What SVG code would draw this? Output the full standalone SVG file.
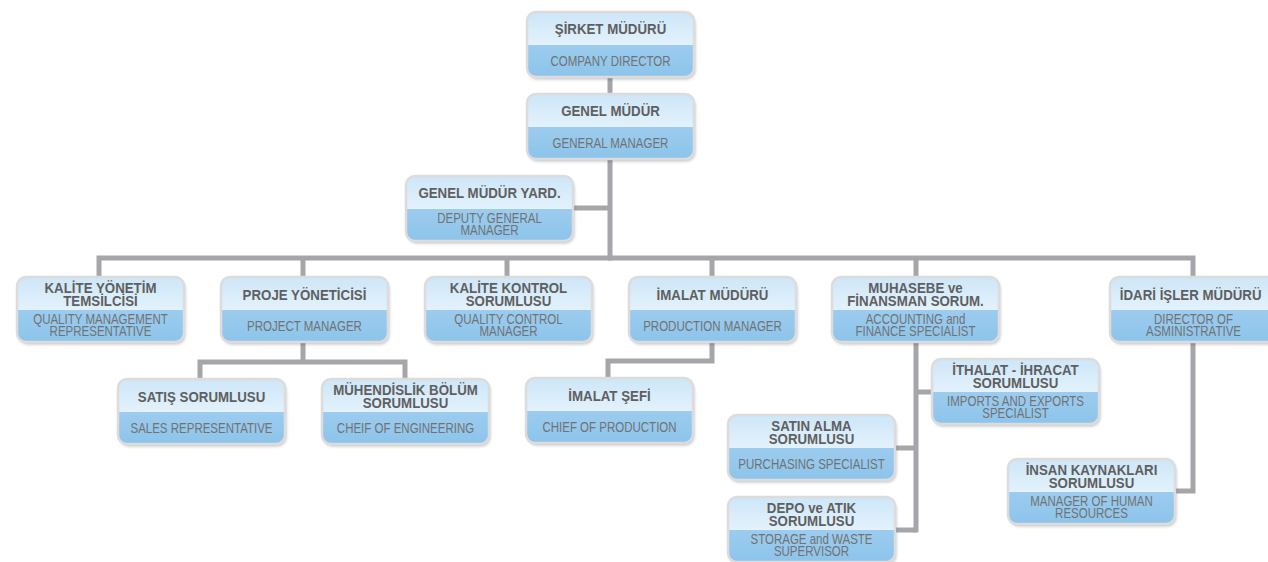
<svg xmlns="http://www.w3.org/2000/svg" xmlns:xlink="http://www.w3.org/1999/xlink" width="1268" height="562" viewBox="0 0 1268 562">
<defs>
<linearGradient id="gt" x1="0" y1="0" x2="0" y2="1"><stop offset="0" stop-color="#cde6f8"/><stop offset="1" stop-color="#e3f2fc"/></linearGradient>
<linearGradient id="gb" x1="0" y1="0" x2="0" y2="1"><stop offset="0" stop-color="#abd4f2"/><stop offset="1" stop-color="#8dc4eb"/></linearGradient>
<filter id="sh" x="-10%" y="-10%" width="130%" height="140%"><feGaussianBlur stdDeviation="1.5"/></filter>
<g id="box">
<rect x="-82" y="2.5" width="167" height="65" rx="9" fill="#000" opacity="0.22" filter="url(#sh)"/>
<rect x="-83.5" y="0" width="167" height="65" rx="9" fill="url(#gb)"/>
<path d="M-83.5,33 V9 A9,9 0 0 1 -74.5,0 H74.5 A9,9 0 0 1 83.5,9 V33 Z" fill="url(#gt)"/>
<rect x="-83.5" y="0" width="167" height="65" rx="9" fill="none" stroke="#dcdcdc" stroke-width="2.5"/>
</g>
<style>
.t{font-family:"Liberation Sans",Arial,sans-serif;font-weight:bold;font-size:14px;fill:#5f5f5f;text-anchor:middle}
.s{font-family:"Liberation Sans",Arial,sans-serif;font-size:14.4px;fill:#727272;text-anchor:middle}
.c{fill:none;stroke:#a5a5aa;stroke-width:5;stroke-linejoin:miter;stroke-linecap:butt}
</style>
</defs>
<rect width="1268" height="562" fill="#fff"/>
<g id="connectors">
<path class="c" d="M610,76 V95"/>
<path class="c" d="M610,158 V260.5"/>
<path class="c" d="M572,208 H610"/>
<path class="c" d="M99,278 V258 H1193 V278"/>
<path class="c" d="M303,258 V278 M507,258 V278 M712,258 V278 M916,258 V278"/>
<path class="c" d="M303,341 V362"/>
<path class="c" d="M200,380 V362 H405 V380"/>
<path class="c" d="M712,341 V361 H608 V379"/>
<path class="c" d="M916,341 V532.5"/>
<path class="c" d="M916,392 H933"/>
<path class="c" d="M894,448 H916"/>
<path class="c" d="M894,530 H916"/>
<path class="c" d="M1193,341 V491 H1174"/>
</g>
<g id="n-sirket" transform="translate(610.5,12)"><use xlink:href="#box"/><text class="t" transform="scale(0.95,1)" y="22">ŞİRKET MÜDÜRÜ</text><text class="s" transform="scale(0.8,1)" y="54">COMPANY DIRECTOR</text></g>
<g id="n-genel" transform="translate(610.5,94)"><use xlink:href="#box"/><text class="t" transform="scale(0.95,1)" y="22">GENEL MÜDÜR</text><text class="s" transform="scale(0.8,1)" y="54">GENERAL MANAGER</text></g>
<g id="n-yard" transform="translate(489.5,176)"><use xlink:href="#box"/><text class="t" transform="scale(0.95,1)" y="22">GENEL MÜDÜR YARD.</text><text class="s" transform="scale(0.8,1)" y="47">DEPUTY GENERAL</text><text class="s" transform="scale(0.8,1)" y="59">MANAGER</text></g>
<g id="n-kalite-yonetim" transform="translate(100.5,277)"><use xlink:href="#box"/><text class="t" transform="scale(0.95,1)" y="16">KALİTE YÖNETİM</text><text class="t" transform="scale(0.95,1)" y="29">TEMSİLCİSİ</text><text class="s" transform="scale(0.8,1)" y="47">QUALITY MANAGEMENT</text><text class="s" transform="scale(0.8,1)" y="59">REPRESENTATIVE</text></g>
<g id="n-proje" transform="translate(304.5,277)"><use xlink:href="#box"/><text class="t" transform="scale(0.95,1)" y="23">PROJE YÖNETİCİSİ</text><text class="s" transform="scale(0.8,1)" y="54">PROJECT MANAGER</text></g>
<g id="n-kalite-kontrol" transform="translate(508.5,277)"><use xlink:href="#box"/><text class="t" transform="scale(0.95,1)" y="16">KALİTE KONTROL</text><text class="t" transform="scale(0.95,1)" y="29">SORUMLUSU</text><text class="s" transform="scale(0.8,1)" y="47">QUALITY CONTROL</text><text class="s" transform="scale(0.8,1)" y="59">MANAGER</text></g>
<g id="n-imalat-mudur" transform="translate(712.5,277)"><use xlink:href="#box"/><text class="t" transform="scale(0.95,1)" y="23">İMALAT MÜDÜRÜ</text><text class="s" transform="scale(0.8,1)" y="54">PRODUCTION MANAGER</text></g>
<g id="n-muhasebe" transform="translate(915.5,277)"><use xlink:href="#box"/><text class="t" transform="scale(0.95,1)" y="16">MUHASEBE ve</text><text class="t" transform="scale(0.95,1)" y="29">FİNANSMAN SORUM.</text><text class="s" transform="scale(0.8,1)" y="47">ACCOUNTING and</text><text class="s" transform="scale(0.8,1)" y="59">FINANCE SPECIALIST</text></g>
<g id="n-idari" transform="translate(1193.5,277)"><use xlink:href="#box"/><text class="t" transform="scale(0.95,1)" x="-3" y="23">İDARİ İŞLER MÜDÜRÜ</text><text class="s" transform="scale(0.8,1)" y="47">DIRECTOR OF</text><text class="s" transform="scale(0.8,1)" y="59">ASMINISTRATIVE</text></g>
<g id="n-satis" transform="translate(201.5,379)"><use xlink:href="#box"/><text class="t" transform="scale(0.95,1)" y="23">SATIŞ SORUMLUSU</text><text class="s" transform="scale(0.8,1)" y="54">SALES REPRESENTATIVE</text></g>
<g id="n-muhendislik" transform="translate(405.5,379)"><use xlink:href="#box"/><text class="t" transform="scale(0.95,1)" y="16">MÜHENDİSLİK BÖLÜM</text><text class="t" transform="scale(0.95,1)" y="29">SORUMLUSU</text><text class="s" transform="scale(0.8,1)" y="54">CHEIF OF ENGINEERING</text></g>
<g id="n-imalat-sefi" transform="translate(609.5,378)"><use xlink:href="#box"/><text class="t" transform="scale(0.95,1)" y="23">İMALAT ŞEFİ</text><text class="s" transform="scale(0.8,1)" y="54">CHIEF OF PRODUCTION</text></g>
<g id="n-ithalat" transform="translate(1015.5,359)"><use xlink:href="#box"/><text class="t" transform="scale(0.95,1)" y="16">İTHALAT - İHRACAT</text><text class="t" transform="scale(0.95,1)" y="29">SORUMLUSU</text><text class="s" transform="scale(0.8,1)" y="47">IMPORTS AND EXPORTS</text><text class="s" transform="scale(0.8,1)" y="59">SPECIALIST</text></g>
<g id="n-satin-alma" transform="translate(811.5,415)"><use xlink:href="#box"/><text class="t" transform="scale(0.95,1)" y="16">SATIN ALMA</text><text class="t" transform="scale(0.95,1)" y="29">SORUMLUSU</text><text class="s" transform="scale(0.8,1)" y="54">PURCHASING SPECIALIST</text></g>
<g id="n-depo" transform="translate(811.5,497)"><use xlink:href="#box"/><text class="t" transform="scale(0.95,1)" y="16">DEPO ve ATIK</text><text class="t" transform="scale(0.95,1)" y="29">SORUMLUSU</text><text class="s" transform="scale(0.8,1)" y="47">STORAGE and WASTE</text><text class="s" transform="scale(0.8,1)" y="59">SUPERVISOR</text></g>
<g id="n-insan" transform="translate(1091.5,459)"><use xlink:href="#box"/><text class="t" transform="scale(0.95,1)" y="16">İNSAN KAYNAKLARI</text><text class="t" transform="scale(0.95,1)" y="29">SORUMLUSU</text><text class="s" transform="scale(0.8,1)" y="47">MANAGER OF HUMAN</text><text class="s" transform="scale(0.8,1)" y="59">RESOURCES</text></g>
</svg>
